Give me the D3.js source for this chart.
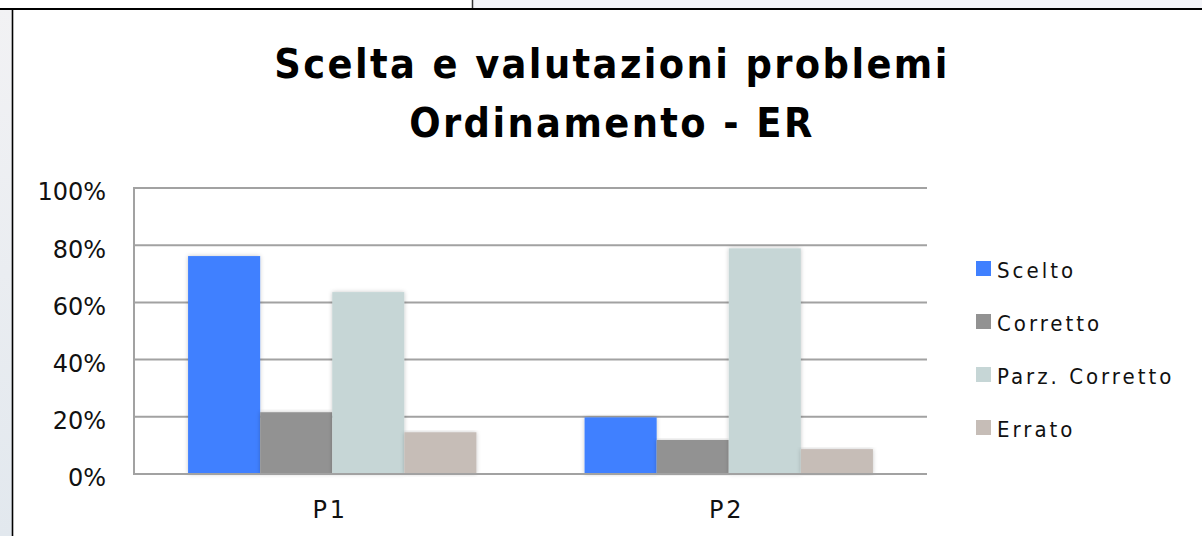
<!DOCTYPE html>
<html>
<head>
<meta charset="utf-8">
<script src="https://cdn.jsdelivr.net/npm/d3@7"></script>
<style>
  body { margin: 0; background: #fff; }
  svg { display: block; }
</style>
</head>
<body>
<svg width="1202" height="536"></svg>
<script>
const width = 1202;
const height = 536;

// data
const categories = ["P1", "P2"];
const series = ["Scelto", "Corretto", "Parz. Corretto", "Errato"];
const scelto = [0.762, 0.198];
const corretto = [0.216, 0.119];
const parzCorretto = [0.636, 0.789];
const errato = [0.146, 0.087];
const yTicks = [0, 0.2, 0.4, 0.6, 0.8, 1];
const titleLines = ["Scelta e valutazioni problemi", "Ordinamento - ER"];

const colors = ["#4080ff", "#929292", "#c6d6d6", "#c6bdb7"];
const values = [scelto, corretto, parzCorretto, errato];

const plot = { left: 134, right: 927, top: 188, bottom: 474 };
const font = "'DejaVu Sans', sans-serif";
const condensed = "'DejaVu Sans Condensed', 'DejaVu Sans', sans-serif";

const svg = d3.select("svg");

// window frame around the chart
const defs = svg.append("defs");
const lg = defs.append("linearGradient").attr("id", "side").attr("x1", 0).attr("y1", 0).attr("x2", 0).attr("y2", 1);
lg.append("stop").attr("offset", "0%").attr("stop-color", "#f2f2f4");
lg.append("stop").attr("offset", "100%").attr("stop-color", "#e2e8ee");

const shadow = defs.append("filter").attr("id", "shadow")
    .attr("x", "-20%").attr("y", "-5%").attr("width", "140%").attr("height", "110%");
shadow.append("feDropShadow").attr("dx", 0).attr("dy", 0)
    .attr("stdDeviation", 2.2).attr("flood-color", "#000").attr("flood-opacity", 0.22);

svg.append("rect").attr("x", 473).attr("y", 0).attr("width", width - 473).attr("height", 9).attr("fill", "#f3f4f8");
svg.append("rect").attr("x", 0).attr("y", 9).attr("width", 12).attr("height", height - 9).attr("fill", "url(#side)");
svg.append("line").attr("x1", 472.5).attr("x2", 472.5).attr("y1", 0).attr("y2", 9).attr("stroke", "#333").attr("stroke-width", 1.5);
svg.append("line").attr("x1", 0).attr("x2", width).attr("y1", 9).attr("y2", 9).attr("stroke", "#000").attr("stroke-width", 2.2);
svg.append("line").attr("x1", 12.5).attr("x2", 12.5).attr("y1", 9).attr("y2", height).attr("stroke", "#000").attr("stroke-width", 1.6);

// title
svg.append("g").selectAll("text")
    .data(titleLines)
    .enter().append("text")
    .attr("x", 612)
    .attr("y", (d, i) => 78 + i * 59)
    .attr("text-anchor", "middle")
    .attr("font-family", condensed)
    .attr("font-stretch", "condensed")
    .attr("font-weight", "bold")
    .attr("font-size", 41)
    .attr("letter-spacing", 2.4)
    .attr("fill", "#000")
    .text(d => d);

const x0 = d3.scaleBand().domain(categories).range([plot.left, plot.right])
    .paddingInner(1.5 / 5.5).paddingOuter(0.75 / 5.5);
const x1 = d3.scaleBand().domain(series).range([0, x0.bandwidth()]);
const y = d3.scaleLinear().domain([0, 1]).range([plot.bottom, plot.top]);

// gridlines
svg.append("g").selectAll("line")
    .data(yTicks)
    .enter().append("line")
    .attr("x1", plot.left).attr("x2", plot.right)
    .attr("y1", d => y(d)).attr("y2", d => y(d))
    .attr("stroke", "#a2a2a2").attr("stroke-width", 2);

svg.append("line")
    .attr("x1", plot.left).attr("x2", plot.left)
    .attr("y1", y(1) - 1).attr("y2", y(0) + 1)
    .attr("stroke", "#a2a2a2").attr("stroke-width", 2);

// y tick labels
svg.append("g").selectAll("text")
    .data(yTicks)
    .enter().append("text")
    .attr("x", 106)
    .attr("y", d => y(d) + 4)
    .attr("dy", "0.35em")
    .attr("text-anchor", "end")
    .attr("font-family", font)
    .attr("font-size", 24)
    .attr("fill", "#111")
    .text(d3.format(".0%"));

// category labels
svg.append("g").selectAll("text")
    .data(categories)
    .enter().append("text")
    .attr("x", d => x0(d) + x0.bandwidth() / 2 - 2)
    .attr("y", 518)
    .attr("text-anchor", "middle")
    .attr("font-family", font)
    .attr("font-size", 24)
    .attr("letter-spacing", 3)
    .attr("fill", "#111")
    .text(d => d);

// bars
const groups = svg.append("g").selectAll("g")
    .data(categories)
    .enter().append("g")
    .attr("transform", d => `translate(${x0(d)},0)`);

groups.selectAll("rect")
    .data((c, ci) => series.map((s, si) => ({ s, si, v: values[si][ci] })))
    .enter().append("rect")
    .attr("x", d => x1(d.s))
    .attr("y", d => y(d.v))
    .attr("width", x1.bandwidth())
    .attr("height", d => y(0) - y(d.v))
    .attr("fill", d => colors[d.si])
    .attr("filter", "url(#shadow)");

// redraw bottom axis over the bar shadows
svg.append("line")
    .attr("x1", plot.left).attr("x2", plot.right)
    .attr("y1", y(0)).attr("y2", y(0))
    .attr("stroke", "#a2a2a2").attr("stroke-width", 2);

// legend
const legend = svg.append("g").selectAll("g")
    .data(series)
    .enter().append("g")
    .attr("transform", (d, i) => `translate(976,${261 + i * 53})`);

legend.append("rect")
    .attr("width", 15).attr("height", 15)
    .attr("fill", (d, i) => colors[i]);

legend.append("text")
    .attr("x", 21)
    .attr("y", 17)
    .attr("font-family", condensed)
    .attr("font-stretch", "condensed")
    .attr("font-size", 22)
    .attr("letter-spacing", 3)
    .attr("fill", "#111")
    .text(d => d);
</script>
</body>
</html>
